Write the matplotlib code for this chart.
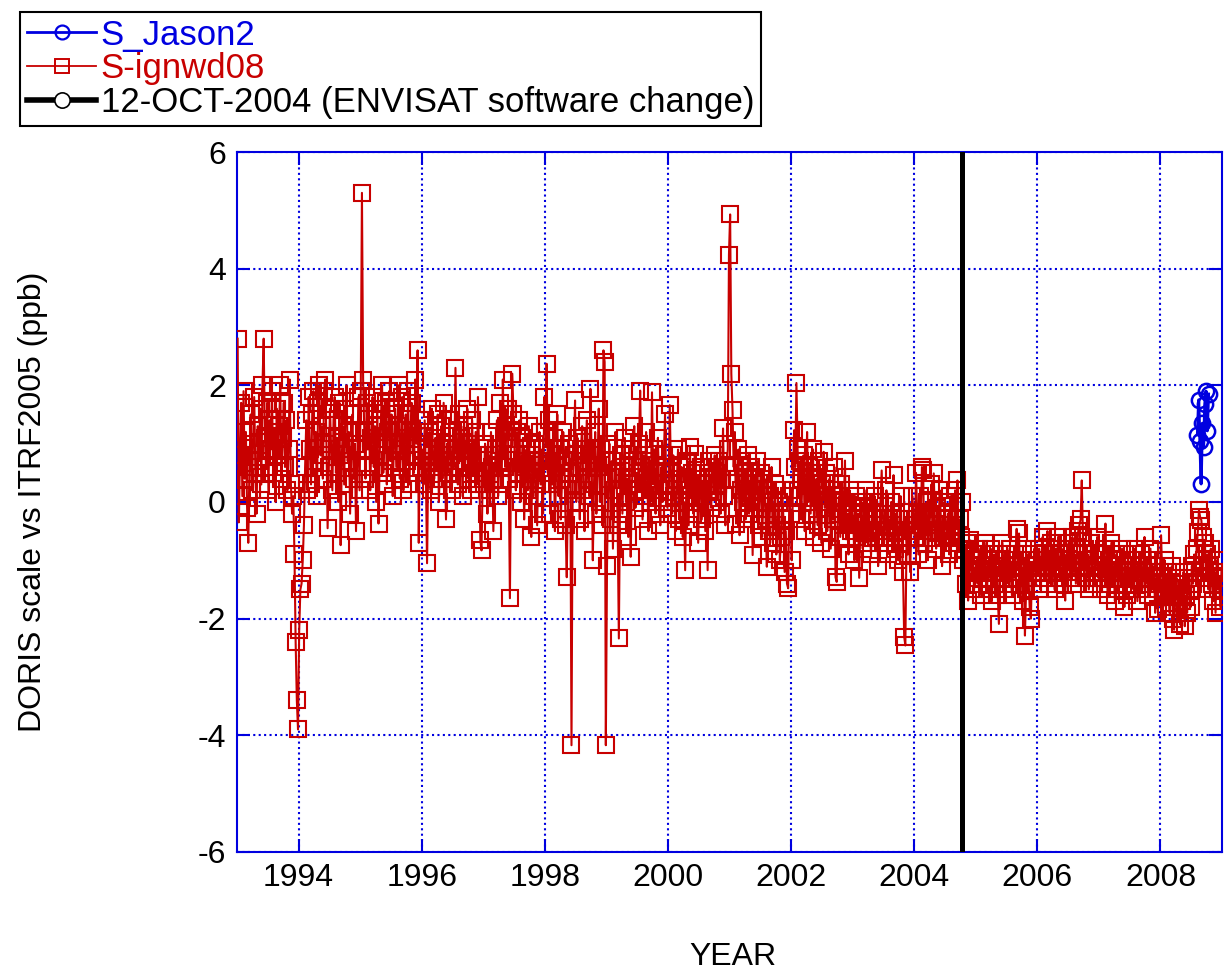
#!/usr/bin/env python
import matplotlib
matplotlib.use('Agg')

from matplotlib import pyplot as plt
from matplotlib import rc
from matplotlib.lines import Line2D

# weekly DORIS scale estimates (ppb), one list per year
s1993 = [2.8, -0.35, 0.8, 1.7, 0.1, 1.9, 0.4, 1.2, -0.1, -0.7, 0.6, 1.5, 0.2, 1.0, 1.8, 0.5, -0.2, 1.3, 0.7,
         1.6, 0.3, 2.0, 2.8, 1.1, 0.6, 1.7, 0.2, 1.4, 0.9, 1.9, 0.5, 1.2, 0.0, 1.6, 0.8, 1.3, 2.0, 0.4, 1.1,
         1.7, 0.6, 1.4, 0.2, 0.9, 2.1, 0.3, -0.2, 0.1, -0.9, -2.4, -3.4, -3.9]
s1994 = [-2.2, -1.5, -1.4, -1.0, -0.4, 0.6, 1.4, 0.2, 1.8, 0.9, 0.3, 1.5, 1.9, 0.7, 1.2, 0.1, 1.7, 2.0, 0.8,
         1.3, 0.4, 1.9, 2.1, 1.0, -0.45, 0.6, 1.6, 0.9, 0.2, 1.4, 1.8, 0.5, 1.1, 0.0, 1.7, -0.74, 0.8, 1.3,
         0.3, 1.6, 2.0, 0.7, 1.2, -0.2, 0.9, 1.5, 0.4, 1.0, -0.5, 0.6, 1.8, 0.2]
s1995 = [1.9, 5.3, 2.1, 1.2, 0.4, 1.7, 0.9, 1.5, 0.2, 1.1, 1.8, 0.6, 1.3, 0.0, 1.6, -0.37, 0.8, 1.4, 2.0,
         0.5, 1.0, 1.7, 0.3, 1.2, 1.9, 0.7, 1.5, 0.1, 1.0, 1.6, 0.6, 1.3, 2.0, 0.4, 0.9, 1.8, 0.2, 1.1, 1.5,
         0.7, 1.9, 0.3, 1.2, 1.7, 0.8, 0.5, 2.1, 1.0, 2.6, -0.7, 1.4, 0.6]
s1996 = [0.9, 0.3, 1.4, 0.5, -1.05, 0.7, 1.2, 0.2, 1.6, 0.8, 0.4, 1.1, 0.6, 1.5, 0.0, 0.9, 1.3, 0.4, 1.7,
         0.7, -0.3, 1.0, 0.5, 1.4, 0.8, 0.2, 1.2, 0.6, 2.3, 0.9, 0.3, 1.5, 0.7, 1.1, 0.1, 1.3, 0.6, 0.9, 1.6,
         0.4, 1.0, 0.2, 1.4, 0.7, 0.5, 1.2, 0.3, 1.8, 0.8, -0.66, -0.83, 0.4]
s1997 = [0.3, 1.0, 0.5, -0.2, 0.8, 0.2, 1.2, 0.6, -0.5, 0.4, 0.9, 1.4, 0.1, 0.7, 1.7, 0.3, 2.1, 1.1, 0.6,
         1.3, 1.6, 0.4, -1.65, 1.0, 2.2, 1.5, 0.8, 0.2, 1.2, 0.5, 1.4, 0.0, 0.7, 1.1, -0.3, 0.6, 0.9, 0.2,
         1.3, 0.4, -0.6, 0.8, 0.1, 1.0, 0.5, -0.4, 0.7, 1.2, 0.3, 0.9, -0.2, 1.8]
s1998 = [1.2, 2.37, 0.5, 1.4, -0.2, 0.8, 0.3, 1.1, -0.5, 0.6, 1.5, 0.1, 0.9, -0.3, 0.4, 1.2, 0.7, -0.4,
         -1.29, 0.2, 1.0, 0.5, -4.17, 0.3, 0.8, 1.74, 0.0, 1.1, 0.6, -0.3, 0.9, 1.3, 0.2, -0.5, 0.7, 1.4,
         0.4, 0.1, 1.94, 0.8, -1.0, 0.3, 1.2, -0.2, 0.6, 1.6, 0.0, 0.9, -0.4, 2.6, 2.4, -4.17]
s1999 = [-1.1, 0.4, 1.0, -0.3, 0.7, -0.8, 0.2, 1.2, 0.5, -0.4, -2.34, 0.1, 0.8, -0.2, 0.6, 1.1, 0.0, 0.4,
         -0.6, 0.9, -0.94, 0.3, 0.7, 1.3, -0.1, 0.5, 0.2, 1.0, 1.91, 0.6, -0.3, 0.8, 0.1, 1.2, 0.4, -0.5,
         0.7, 0.0, 1.88, 0.3, 0.9, -0.2, 0.5, 1.1, 0.2, -0.4, 0.6, 0.0, 0.8, 1.5, 0.3, -0.1]
s2000 = [0.3, 1.66, 0.5, -0.2, 0.8, 0.1, -0.5, 0.4, 0.9, -0.3, 0.2, 0.6, -0.6, 0.0, -1.17, 0.3, 0.7, -0.4,
         0.94, 0.1, 0.5, -0.2, 0.83, 0.0, 0.4, -0.7, 0.2, 0.6, -0.3, 0.1, 0.5, -0.5, 0.3, -1.17, 0.7, 0.2,
         -0.1, 0.6, 0.4, 0.8, 0.0, 0.5, 0.3, 0.7, -0.2, 0.4, 1.26, 0.1, -0.4, 0.6, 0.9, 4.24]
s2001 = [4.93, 2.2, 1.57, 0.6, 1.2, -0.37, 0.4, 0.9, -0.57, 0.2, 0.7, 0.0, 0.5, -0.3, 0.3, 0.8, -0.2, 0.1,
         0.6, -0.91, 0.4, -0.1, 0.3, 0.7, -0.4, 0.2, 0.5, -0.6, 0.0, 0.4, -0.3, -1.11, 0.2, -0.5, 0.1, 0.6,
         -0.7, -0.2, 0.3, -0.9, -0.4, 0.0, -1.0, -0.6, 0.2, -0.3, -1.2, -0.5, -1.4, -1.48, 0.1, -0.2]
s2002 = [-1.0, 0.2, 1.23, 0.6, 2.04, 0.9, 0.1, 0.7, -0.3, 0.4, 0.8, -0.5, 0.3, 1.2, 0.0, 0.6, -0.2, 0.5,
         0.9, -0.6, 0.2, 0.4, -0.4, 0.7, 0.1, -0.7, 0.3, 0.86, -0.1, 0.5, -0.5, 0.0, 0.4, -0.8, 0.2, -0.3,
         0.6, -1.29, -1.37, -0.2, 0.1, -0.6, 0.3, -0.4, 0.0, 0.71, -0.64, -0.2, -0.9, 0.2, -0.5, -0.1]
s2003 = [-0.3, -1.0, 0.1, -0.6, -0.2, -1.3, -0.4, 0.0, -0.8, -0.3, -0.5, 0.2, -0.7, -0.1, -0.53, -0.9,
         -0.2, -0.4, 0.1, -0.6, -0.3, -1.1, -0.5, 0.0, 0.54, -0.2, -0.7, -0.4, 0.2, -0.9, -0.3, -0.6, 0.0,
         -0.4, 0.46, -0.8, -0.2, -0.5, -1.0, -0.3, 0.1, -0.7, -1.2, -2.31, -2.46, -0.6, -0.9, -0.3, -1.2,
         -0.5, 0.1, -0.4]
s2004 = [-0.6, 0.5, -0.2, -0.9, 0.1, -0.4, 0.6, 0.54, -0.7, -0.3, 0.0, -1.0, -0.5, -0.2, 0.3, -0.61, 0.49,
         -0.4, -0.8, -0.1, -0.5, 0.2, -0.3, -1.1, -0.6, 0.0, -0.4, -0.56, -0.2, -0.9, 0.1, -0.5, -0.3, -0.7,
         0.2, -0.4, 0.37, -0.83, -0.3, -0.6, 0.0, -1.0, -0.8, -1.4, -0.7, -1.69, -1.1, -0.66, -1.3, -0.9,
         -1.5, -1.2]
s2005 = [-1.0, -1.4, -0.8, -1.2, -1.6, -0.9, -1.3, -0.7, -1.1, -1.5, -1.0, -1.3, -0.8, -1.7, -1.2, -0.9,
         -1.4, -1.1, -1.6, -2.09, -1.0, -1.3, -0.7, -1.2, -1.5, -0.9, -1.1, -1.4, -0.8, -1.2, -1.6, -1.0,
         -1.3, -0.9, -0.46, -1.1, -0.54, -1.4, -1.0, -1.7, -1.2, -2.29, -1.5, -0.9, -1.3, -1.8, -2.0, -1.1,
         -1.4, -0.8, -1.2, -1.0]
s2006 = [-1.2, -0.8, -1.5, -1.0, -0.6, -1.3, -0.9, -1.1, -0.5, -1.4, -1.0, -0.7, -1.2, -0.9, -1.5, -0.8,
         -1.1, -0.6, -1.3, -1.0, -0.8, -1.4, -1.2, -1.69, -0.9, -1.1, -0.7, -1.3, -1.0, -0.6, -1.2, -0.9,
         -1.4, -0.8, -0.5, -0.4, -0.3, 0.37, -0.6, -1.1, -0.8, -1.3, -0.9, -1.5, -1.0, -0.7, -1.2, -1.4,
         -0.9, -1.1, -0.6, -1.3]
s2007 = [-1.1, -1.5, -0.9, -1.3, -0.8, -0.37, -1.2, -1.6, -1.0, -1.4, -0.7, -1.3, -1.1, -1.7, -0.9, -1.2,
         -1.5, -1.0, -1.3, -0.8, -1.4, -1.8, -1.1, -1.6, -0.9, -1.3, -1.2, -1.5, -1.0, -1.4, -0.8, -1.2,
         -1.7, -1.1, -1.3, -0.9, -1.5, -1.2, -0.6, -1.4, -1.0, -1.6, -1.3, -0.8, -1.2, -1.5, -1.1, -1.9,
         -1.3, -1.83, -1.4, -1.2]
s2008 = [-0.57, -1.3, -1.6, -1.0, -1.8, -1.4, -1.2, -1.9, -1.5, -1.1, -2.0, -2.19, -1.6, -1.3, -1.8, -1.5,
         -2.1, -1.4, -1.7, -1.2, -2.13, -1.6, -1.9, -1.3, -1.5, -1.8, -1.1, -1.4, -0.9, -1.2, -0.8, -0.51,
         -0.14, -0.26, -0.31, -0.6, -1.0, -0.7, -1.3, -0.9, -1.5, -1.1, -0.8, -1.4, -1.7, -1.2, -1.9, -1.0,
         -1.5, -1.3, -1.8, -1.2]

years = list(range(1993, 2009))
ign_series = [s1993, s1994, s1995, s1996, s1997, s1998, s1999, s2000,
              s2001, s2002, s2003, s2004, s2005, s2006, s2007, s2008]

jason_t = [2008.60, 2008.62, 2008.64, 2008.66, 2008.68, 2008.70, 2008.72, 2008.74, 2008.76, 2008.78]
jason_s = [1.15, 1.75, 1.05, 0.31, 1.35, 0.94, 1.68, 1.9, 1.22, 1.85]

change_date = 2004.78  # 12-OCT-2004

xticks = [1994, 1996, 1998, 2000, 2002, 2004, 2006, 2008]
yticks = [-6, -4, -2, 0, 2, 4, 6]

RED = '#c80000'
BLUE = '#0000e0'


def initialize_matplotlib():
    rc('font', family=['Liberation Sans', 'DejaVu Sans'])
    rc('font', size=23)
    rc('axes', linewidth=1.5)
    rc('axes', edgecolor=BLUE)
    rc('axes', unicode_minus=False)
    rc('xtick', labelsize=23)
    rc('ytick', labelsize=23)


def main():
    initialize_matplotlib()

    ign_t = []
    ign_s = []
    for year, vals in zip(years, ign_series):
        n = len(vals)
        for k, v in enumerate(vals):
            ign_t.append(year + (k + 0.5) / n)
            ign_s.append(v)

    fig = plt.figure(figsize=(12.25, 9.72), dpi=100)
    ax = fig.add_axes([0.1935, 0.1235, 0.8041, 0.7201])

    ax.grid(True, color=BLUE, linestyle=(0, (1, 1.6)), linewidth=1.5)
    ax.set_axisbelow(True)

    ax.plot(ign_t, ign_s, '-', color=RED, lw=1.5, marker='s', ms=11,
            mfc='none', mec=RED, mew=1.5, zorder=3)
    ax.axvline(change_date, color='black', lw=3.6, zorder=4)
    ax.plot(jason_t, jason_s, '-', color=BLUE, lw=2.2, marker='o', ms=11,
            mfc='none', mec=BLUE, mew=1.8, zorder=5)

    ax.set_xlim(1993, 2009)
    ax.set_ylim(-6, 6)
    ax.set_xticks(xticks)
    ax.set_yticks(yticks)
    ax.tick_params(direction='in', length=9.5, width=1.5, color=BLUE,
                   top=True, right=True, pad=8, labelcolor='black')

    ax.set_xlabel('YEAR', fontsize=23)
    ax.xaxis.set_label_coords(0.5036, -0.128)
    ax.set_ylabel('DORIS scale vs ITRF2005 (ppb)', fontsize=23)
    ax.yaxis.set_label_coords(-0.192, 0.5)

    handles = [
        Line2D([], [], color=BLUE, lw=2.0, marker='o', ms=10, mfc='none', mec=BLUE, mew=1.6),
        Line2D([], [], color=RED, lw=1.3, marker='s', ms=10, mfc='none', mec=RED, mew=1.4),
        Line2D([], [], color='black', lw=4.0, marker='o', ms=11, mfc='white', mec='black', mew=1.2),
    ]
    labels = ['S_Jason2', 'S-ignwd08', '12-OCT-2004 (ENVISAT software change)']
    leg = fig.legend(handles, labels, loc='upper left', bbox_to_anchor=(0.0163, 0.988),
                     fontsize=25, frameon=True, fancybox=False, framealpha=1,
                     edgecolor='black', borderpad=0.2, labelspacing=0.02,
                     handlelength=2.0, handletextpad=0.12, borderaxespad=0)
    leg.get_frame().set_linewidth(1.5)
    for txt, col in zip(leg.get_texts(), [BLUE, RED, 'black']):
        txt.set_color(col)

    fig.savefig('out.png', dpi=100)


if __name__ == '__main__':
    main()
